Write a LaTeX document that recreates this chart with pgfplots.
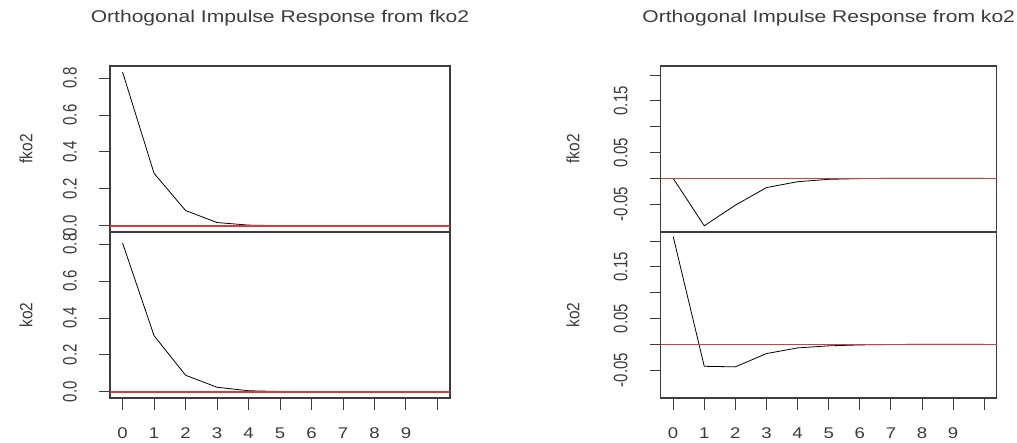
\documentclass[border=0pt]{standalone}
\usepackage{fontspec}
\setmainfont{Liberation Sans}
\usepackage{graphicx}
\usepackage{pgfplots}
\pgfplotsset{compat=1.18}
\definecolor{boxc}{RGB}{60,60,60}
\definecolor{zeroc}{RGB}{215,60,60}
\pgfplotsset{
  irf/.style={
    scale only axis, width=340pt, height=166pt,
    anchor=south west,
    xmin=-0.4, xmax=10.4,
    axis line style={draw=boxc, line width=1.1pt},
    tick style={draw=boxc, line width=0.9pt},
    tick align=outside, major tick length=10.5pt,
    ytick pos=left, xtick pos=bottom,
    /pgf/number format/assume math mode=true,
    yticklabel style={font=\fontsize{15}{17}\selectfont, color=boxc, xshift=-18pt, rotate=90, yscale=1.3, anchor=south},
    xticklabel style={font=\fontsize{15.5}{17}\selectfont, color=boxc, xscale=1.2, anchor=north, yshift=-16pt},
    clip=false,
  },
  leftp/.style={irf, ymin=-0.0332, ymax=0.8652, ytick={0,0.2,0.4,0.6,0.8}, yticklabels={0.0,0.2,0.4,0.6,0.8}},
  rightp/.style={irf, width=336pt, ymin=-0.104, ymax=0.2175, ytick={-0.05,0,0.05,0.1,0.15,0.2}, yticklabels={-0.05,{},0.05,{},0.15,{}}},
  toppanel/.style={xtick=\empty},
  botpanel/.style={xtick={0,1,2,3,4,5,6,7,8,9,10}, xticklabels={0,1,2,3,4,5,6,7,8,9,{}}, xtick style={yshift=-1.5pt}},
  curve/.style={black, line width=0.8pt, no marks},
  zeroline/.style={draw=zeroc, line width=1.4pt, no marks, forget plot},
}
\begin{document}
\begin{tikzpicture}
\useasboundingbox (0pt,0pt) rectangle (1017pt,443pt);
% left top: fko2 -> fko2
\begin{axis}[leftp, toppanel, at={(110pt,211pt)}]
\addplot[curve] coordinates {(0,0.832) (1,0.284) (2,0.083) (3,0.018) (4,0.004) (5,0.001) (6,0) (7,0) (8,0) (9,0) (10,0)};
\addplot[zeroline] coordinates {(-0.4,0) (10.4,0)};
\node[font=\fontsize{15.5}{17}\selectfont, color=boxc, xshift=-84pt, rotate=90, yscale=1.15] at (rel axis cs:0,0.5) {fko2};
\end{axis}
% left bottom: fko2 -> ko2
\begin{axis}[leftp, botpanel, at={(110pt,45pt)}]
\addplot[curve] coordinates {(0,0.805) (1,0.304) (2,0.090) (3,0.025) (4,0.006) (5,0.002) (6,0) (7,0) (8,0) (9,0) (10,0)};
\addplot[zeroline] coordinates {(-0.4,0) (10.4,0)};
\node[font=\fontsize{15.5}{17}\selectfont, color=boxc, xshift=-84pt, rotate=90, yscale=1.15] at (rel axis cs:0,0.5) {ko2};
\end{axis}
% right top: ko2 -> fko2
\begin{axis}[rightp, toppanel, at={(660.7pt,211pt)}]
\addplot[curve] coordinates {(0,0) (1,-0.092) (2,-0.052) (3,-0.018) (4,-0.0066) (5,-0.002) (6,-0.0006) (7,0) (8,0) (9,0) (10,0)};
\addplot[zeroline] coordinates {(-0.4,0) (10.4,0)};
\node[font=\fontsize{15.5}{17}\selectfont, color=boxc, xshift=-87.7pt, rotate=90, yscale=1.15] at (rel axis cs:0,0.5) {fko2};
\end{axis}
% right bottom: ko2 -> ko2
\begin{axis}[rightp, botpanel, at={(660.7pt,45pt)}]
\addplot[curve] coordinates {(0,0.209) (1,-0.0426) (2,-0.0437) (3,-0.018) (4,-0.0070) (5,-0.0030) (6,-0.0012) (7,-0.0004) (8,0) (9,0) (10,0)};
\addplot[zeroline] coordinates {(-0.4,0) (10.4,0)};
\node[font=\fontsize{15.5}{17}\selectfont, color=boxc, xshift=-87.7pt, rotate=90, yscale=1.15] at (rel axis cs:0,0.5) {ko2};
\end{axis}
\node[font=\fontsize{17}{20}\selectfont, color=boxc, xscale=1.24] at (280pt,425pt) {Orthogonal Impulse Response from fko2};
\node[font=\fontsize{17}{20}\selectfont, color=boxc, xscale=1.24] at (828.7pt,425pt) {Orthogonal Impulse Response from ko2};
\end{tikzpicture}
\end{document}
